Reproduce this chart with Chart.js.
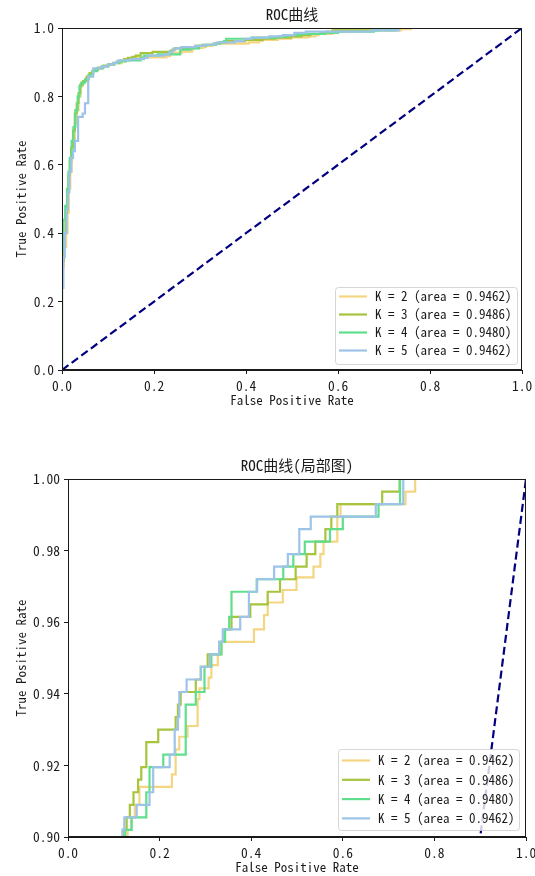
<!DOCTYPE html>
<html>
<head>
<meta charset="utf-8">
<script src="https://cdn.jsdelivr.net/npm/chart.js@4.4.0/dist/chart.umd.min.js"></script>
<style>
  html, body { margin: 0; padding: 0; background: #fff; overflow: hidden; }
  canvas { position: absolute; left: 0; }
  #rocFull { top: 0; }
  #rocZoom { top: 440px; }
</style>
</head>
<body>
<canvas id="rocFull" width="535" height="420"></canvas>
<canvas id="rocZoom" width="535" height="447"></canvas>
<script>
// legend text and line colours, one per K
const seriesLabels = ['K = 2 (area = 0.9462)', 'K = 3 (area = 0.9486)', 'K = 4 (area = 0.9480)', 'K = 5 (area = 0.9462)'];
const seriesColors = ['#F3D582', '#A6C43C', '#5FDE8C', '#9DC4E8'];

// ROC points (fpr, tpr), step happens at each fpr
const k2Fpr = [0, 0, 0.004, 0.009, 0.012, 0.015, 0.018, 0.021, 0.024, 0.028, 0.032, 0.036, 0.040, 0.045, 0.052, 0.058, 0.065, 0.075, 0.088, 0.100, 0.115, 0.130, 0.138, 0.146, 0.156, 0.227, 0.235, 0.243, 0.261, 0.283, 0.287, 0.307, 0.313, 0.327, 0.335, 0.406, 0.428, 0.436, 0.469, 0.499, 0.536, 0.551, 0.558, 0.588, 0.595, 0.737, 0.758, 1.0];
const k2Tpr = [0, 0.30, 0.36, 0.40, 0.46, 0.53, 0.58, 0.64, 0.67, 0.72, 0.76, 0.80, 0.83, 0.845, 0.855, 0.865, 0.875, 0.882, 0.888, 0.893, 0.897, 0.902, 0.9055, 0.909, 0.914, 0.9175, 0.9245, 0.928, 0.931, 0.9385, 0.9415, 0.9445, 0.948, 0.951, 0.9545, 0.958, 0.962, 0.9655, 0.969, 0.9725, 0.9755, 0.979, 0.9825, 0.9895, 0.993, 0.9965, 1.0, 1.0];

const k3Fpr = [0, 0, 0.004, 0.008, 0.011, 0.014, 0.017, 0.020, 0.024, 0.028, 0.032, 0.036, 0.040, 0.046, 0.054, 0.060, 0.068, 0.078, 0.090, 0.102, 0.112, 0.120, 0.128, 0.135, 0.143, 0.153, 0.160, 0.171, 0.197, 0.235, 0.240, 0.246, 0.279, 0.290, 0.305, 0.330, 0.342, 0.357, 0.398, 0.436, 0.463, 0.497, 0.521, 0.540, 0.562, 0.575, 0.588, 0.686, 0.724, 1.0];
const k3Tpr = [0, 0.32, 0.40, 0.46, 0.52, 0.57, 0.61, 0.65, 0.70, 0.75, 0.78, 0.81, 0.835, 0.845, 0.858, 0.868, 0.877, 0.884, 0.890, 0.894, 0.898, 0.902, 0.9055, 0.909, 0.9125, 0.916, 0.9195, 0.9265, 0.93, 0.9335, 0.937, 0.9405, 0.944, 0.9475, 0.951, 0.9545, 0.958, 0.9615, 0.965, 0.9685, 0.972, 0.9755, 0.979, 0.9825, 0.986, 0.9895, 0.993, 0.9965, 1.0, 1.0];

const k4Fpr = [0, 0, 0.003, 0.007, 0.011, 0.014, 0.017, 0.021, 0.025, 0.029, 0.034, 0.038, 0.042, 0.050, 0.058, 0.066, 0.076, 0.088, 0.100, 0.112, 0.125, 0.139, 0.171, 0.178, 0.208, 0.257, 0.279, 0.298, 0.313, 0.335, 0.343, 0.352, 0.357, 0.412, 0.470, 0.492, 0.517, 0.572, 0.600, 0.678, 0.725, 1.0];
const k4Tpr = [0, 0.35, 0.44, 0.48, 0.53, 0.58, 0.62, 0.67, 0.71, 0.76, 0.80, 0.83, 0.84, 0.85, 0.862, 0.874, 0.882, 0.888, 0.893, 0.897, 0.902, 0.9055, 0.9125, 0.9195, 0.923, 0.937, 0.9405, 0.9475, 0.951, 0.9545, 0.958, 0.9615, 0.9685, 0.972, 0.9755, 0.979, 0.9825, 0.986, 0.9895, 0.993, 1.0, 1.0];

const k5Fpr = [0, 0, 0.003, 0.006, 0.010, 0.013, 0.016, 0.020, 0.024, 0.028, 0.035, 0.045, 0.050, 0.057, 0.068, 0.085, 0.100, 0.112, 0.119, 0.123, 0.150, 0.178, 0.186, 0.222, 0.233, 0.240, 0.243, 0.259, 0.290, 0.310, 0.330, 0.338, 0.376, 0.395, 0.413, 0.450, 0.480, 0.505, 0.530, 0.672, 0.732, 1.0];
const k5Tpr = [0, 0.24, 0.33, 0.40, 0.47, 0.52, 0.58, 0.62, 0.64, 0.67, 0.74, 0.75, 0.78, 0.858, 0.882, 0.887, 0.893, 0.898, 0.902, 0.9055, 0.909, 0.9125, 0.9195, 0.923, 0.93, 0.9335, 0.9405, 0.944, 0.9475, 0.951, 0.9545, 0.958, 0.9615, 0.9685, 0.972, 0.9755, 0.979, 0.986, 0.9895, 0.993, 1.0, 1.0];

// chance line
const diagFpr = [0, 1];
const diagTpr = [0, 1];

const xTickValues = [0, 0.2, 0.4, 0.6, 0.8, 1.0];
const xTickLabels = ['0.0', '0.2', '0.4', '0.6', '0.8', '1.0'];
const fullYTickValues = [0, 0.2, 0.4, 0.6, 0.8, 1.0];
const fullYTickLabels = ['0.0', '0.2', '0.4', '0.6', '0.8', '1.0'];
const zoomYTickValues = [0.90, 0.92, 0.94, 0.96, 0.98, 1.00];
const zoomYTickLabels = ['0.90', '0.92', '0.94', '0.96', '0.98', '1.00'];

const FONT = "'Noto Sans Mono CJK SC', 'Noto Sans CJK SC', 'DejaVu Sans Mono', monospace";
const INK = '#1a1a1a';

Chart.defaults.font.family = FONT;
Chart.defaults.font.size = 13.5;
Chart.defaults.color = INK;

function toPoints(xs, ys) {
    return xs.map((x, i) => ({ x: x, y: ys[i] }));
}

function buildDatasets() {
    const curves = [[k2Fpr, k2Tpr], [k3Fpr, k3Tpr], [k4Fpr, k4Tpr], [k5Fpr, k5Tpr]];
    const sets = curves.map((c, i) => ({
        label: seriesLabels[i],
        data: toPoints(c[0], c[1]),
        borderColor: seriesColors[i],
        borderWidth: 2.2,
        pointRadius: 0,
        stepped: 'before',
        fill: false,
        clip: 0,
        order: 4 - i
    }));
    sets.push({
        label: '',
        data: toPoints(diagFpr, diagTpr),
        borderColor: '#000080',
        borderWidth: 2.2,
        borderDash: [8, 4],
        pointRadius: 0,
        fill: false,
        clip: 0,
        order: 0
    });
    return sets;
}

// frame, matplotlib-style legend box and a title centred on the plot area
const decor = {
    id: 'decor',
    afterDatasetsDraw(chart, args, opts) {
        const { ctx, chartArea } = chart;
        ctx.save();
        ctx.strokeStyle = INK;
        ctx.lineWidth = 1;
        ctx.strokeRect(chartArea.left + 0.5, chartArea.top + 0.5, chartArea.width - 1, chartArea.height - 1);

        const items = chart.data.datasets.filter(d => d.label);
        const bx = chartArea.right - opts.insetRight - opts.boxWidth;
        const by = chartArea.bottom - opts.insetBottom - opts.boxHeight;
        ctx.beginPath();
        ctx.roundRect(bx + 0.5, by + 0.5, opts.boxWidth, opts.boxHeight, 3);
        ctx.fillStyle = 'rgba(255,255,255,0.8)';
        ctx.fill();
        ctx.strokeStyle = 'rgba(204,204,204,0.8)';
        ctx.stroke();

        ctx.font = '13px ' + FONT;
        ctx.textBaseline = 'middle';
        items.forEach((d, i) => {
            const cy = by + opts.firstRow + opts.rowHeight * i;
            ctx.strokeStyle = d.borderColor;
            ctx.lineWidth = 2.2;
            ctx.beginPath();
            ctx.moveTo(bx + 4, cy);
            ctx.lineTo(bx + 32, cy);
            ctx.stroke();
            ctx.fillStyle = INK;
            ctx.fillText(d.label, bx + 40, cy);
        });

        ctx.font = '15px ' + FONT;
        ctx.textAlign = 'center';
        ctx.fillStyle = INK;
        ctx.fillText(opts.title, (chartArea.left + chartArea.right) / 2, chartArea.top - 14);
        ctx.restore();
    }
};

function makeOptions(cfg) {
    return {
        responsive: false,
        animation: false,
        devicePixelRatio: 1,
        events: [],
        layout: { padding: { top: cfg.top, right: cfg.right, left: 0, bottom: 0 } },
        plugins: {
            legend: { display: false },
            tooltip: { enabled: false },
            decor: cfg.decor
        },
        scales: {
            x: {
                type: 'linear',
                min: 0,
                max: 1,
                afterBuildTicks: axis => { axis.ticks = xTickValues.map(v => ({ value: v })); },
                afterFit: axis => {
                    axis.height = 50;
                    axis.paddingLeft = 0;
                    axis.paddingRight = 0;
                },
                ticks: { callback: (v, i) => xTickLabels[i], maxRotation: 0, autoSkip: false, padding: 4, color: INK },
                grid: { drawOnChartArea: false, tickLength: 4, color: INK },
                border: { display: true, color: INK },
                title: { display: true, text: 'False Positive Rate', color: INK, font: { size: 13 }, padding: { top: 0, bottom: 12 } }
            },
            y: {
                type: 'linear',
                min: cfg.yMin,
                max: 1,
                afterBuildTicks: axis => { axis.ticks = cfg.yValues.map(v => ({ value: v })); },
                afterFit: axis => {
                    axis.width = cfg.yWidth;
                    axis.paddingTop = 0;
                    axis.paddingBottom = 0;
                },
                ticks: { callback: (v, i) => cfg.yLabels[i], autoSkip: false, padding: 4, color: INK },
                grid: { drawOnChartArea: false, tickLength: 4, color: INK },
                border: { display: true, color: INK },
                title: { display: true, text: 'True Positive Rate', color: INK, font: { size: 13 }, padding: { top: 13, bottom: 0 } }
            }
        }
    };
}

new Chart(document.getElementById('rocFull'), {
    type: 'line',
    data: { datasets: buildDatasets() },
    options: makeOptions({
        top: 28, right: 13, yWidth: 62, yMin: 0,
        yValues: fullYTickValues, yLabels: fullYTickLabels,
        decor: { title: 'ROC曲线', boxWidth: 182, boxHeight: 77, insetRight: 5, insetBottom: 6, firstRow: 9.5, rowHeight: 18 }
    }),
    plugins: [decor]
});

new Chart(document.getElementById('rocZoom'), {
    type: 'line',
    data: { datasets: buildDatasets() },
    options: makeOptions({
        top: 39, right: 9, yWidth: 68, yMin: 0.9,
        yValues: zoomYTickValues, yLabels: zoomYTickLabels,
        decor: { title: 'ROC曲线(局部图)', boxWidth: 181, boxHeight: 81, insetRight: 7, insetBottom: 7, firstRow: 11.5, rowHeight: 19.3 }
    }),
    plugins: [decor]
});
</script>
</body>
</html>
